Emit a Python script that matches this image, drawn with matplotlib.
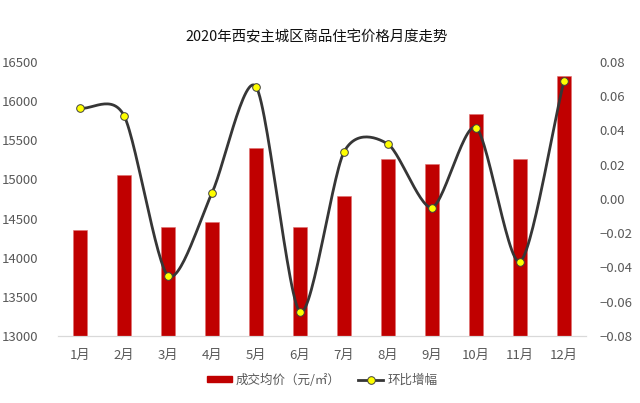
import matplotlib.pyplot as plt
import matplotlib.lines as mlines
import matplotlib.patches as mpatches
import numpy as np

plt.rcParams['font.family'] = ['Noto Sans CJK SC', 'DejaVu Sans']

months = ['1月', '2月', '3月', '4月', '5月', '6月', '7月', '8月', '9月', '10月', '11月', '12月']
avg_price = [14355, 15055, 14390, 14450, 15405, 14390, 14790, 15265, 15200, 15835, 15260, 16325]
mom_change = [0.053, 0.0487, -0.0448, 0.0035, 0.0656, -0.066, 0.0274, 0.032, -0.005, 0.0417, -0.0366, 0.069]

bar_color = '#C00000'
line_color = '#363636'
text_grey = '#595959'


def smooth_curve(x, y, steps=30, tension=0.8):
    # catmull-rom through the points, roughly like excel's smoothed line
    x = np.asarray(x, float)
    y = np.asarray(y, float)
    px = np.concatenate([[2 * x[0] - x[1]], x, [2 * x[-1] - x[-2]]])
    py = np.concatenate([[2 * y[0] - y[1]], y, [2 * y[-1] - y[-2]]])
    xs, ys = [], []
    t = np.linspace(0, 1, steps)
    for i in range(1, len(px) - 2):
        for arr, out in ((px, xs), (py, ys)):
            p0, p1, p2, p3 = arr[i - 1], arr[i], arr[i + 1], arr[i + 2]
            m1 = tension * (p2 - p0) / 2
            m2 = tension * (p3 - p1) / 2
            h00 = 2 * t ** 3 - 3 * t ** 2 + 1
            h10 = t ** 3 - 2 * t ** 2 + t
            h01 = -2 * t ** 3 + 3 * t ** 2
            h11 = t ** 3 - t ** 2
            out.extend(h00 * p1 + h10 * m1 + h01 * p2 + h11 * m2)
    return np.array(xs), np.array(ys)


fig = plt.figure(figsize=(6.4, 4.03), dpi=100)
ax = fig.add_axes([0.0906, 0.1663, 0.825, 0.680])
ax2 = ax.twinx()

x = np.arange(len(months))
ax.bar(x, np.array(avg_price) - 13000, bottom=13000, width=0.31, color=bar_color,
       edgecolor='#e07070', linewidth=0.4, zorder=2)
ax.set_ylim(13000, 16500)
ax.set_yticks(np.arange(13000, 16501, 500))
ax.set_xlim(-0.5, len(months) - 0.5)
ax.set_xticks(x)
ax.set_xticklabels(months)

sx, sy = smooth_curve(x, mom_change)
ax2.plot(sx, sy, color=line_color, linewidth=2.0, zorder=3)
ax2.plot(x, mom_change, linestyle='none', marker='o', markersize=5.5,
         markerfacecolor='#FFFF00', markeredgecolor='#404040', markeredgewidth=0.7, zorder=4)
ax2.set_ylim(-0.08, 0.08)
ax2.set_yticks(np.arange(-0.08, 0.081, 0.02))
ax2.set_yticklabels(['{:.2f}'.format(v).replace('-', '\u2212') for v in np.arange(-0.08, 0.081, 0.02)])

for a in (ax, ax2):
    for s in ('top', 'right', 'left'):
        a.spines[s].set_visible(False)
    a.spines['bottom'].set_color('#d9d9d9')
    a.tick_params(length=0, colors=text_grey, labelsize=9.5)
ax.tick_params(axis='y', pad=14)
ax2.tick_params(axis='y', pad=10)
ax.tick_params(axis='x', pad=9)

fig.text(0.4945, 0.908, '2020年西安主城区商品住宅价格月度走势', ha='center', va='center',
         fontsize=10.4, color='#111111')

bar_handle = mpatches.Patch(color=bar_color, label='成交均价（元/㎡）')
line_handle = mlines.Line2D([], [], color=line_color, linewidth=2.0, marker='o', markersize=5.5,
                            markerfacecolor='#FFFF00', markeredgecolor='#404040', markeredgewidth=0.7,
                            label='环比增幅')
fig.legend(handles=[bar_handle, line_handle], loc='center', bbox_to_anchor=(0.503, 0.057), ncol=2,
           frameon=False, fontsize=9, labelcolor=text_grey, handlelength=2.0, handleheight=0.3,
           columnspacing=1.45, handletextpad=0.3)

fig.savefig('out.png', dpi=100)
